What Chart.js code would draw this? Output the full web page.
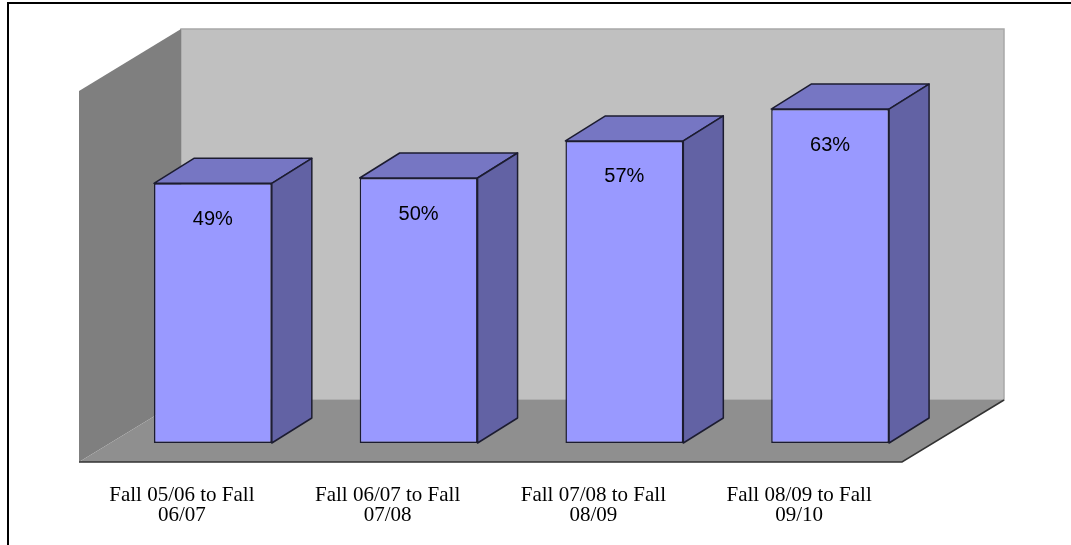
<!DOCTYPE html>
<html>
<head>
<meta charset="utf-8">
<script src="https://cdn.jsdelivr.net/npm/chart.js@4.4.0/dist/chart.umd.min.js"></script>
<style>
  body { margin: 0; background: #fff; }
</style>
</head>
<body>
<canvas id="myChart" width="1071" height="545"></canvas>
<script>
var categories = [
  ["Fall 05/06 to Fall", "06/07"],
  ["Fall 06/07 to Fall", "07/08"],
  ["Fall 07/08 to Fall", "08/09"],
  ["Fall 08/09 to Fall", "09/10"]
];
var rates = [49, 50, 57, 63];
var rateLabels = ["49%", "50%", "57%", "63%"];

// 3d look: walls, floor, bar tops and sides
var depthBox = {
  id: "depthBox",
  beforeDraw: function (chart) {
    var c = chart.ctx;
    c.save();
    c.strokeStyle = "#000";
    c.lineWidth = 2;
    c.beginPath();
    c.moveTo(8, 546);
    c.lineTo(8, 3);
    c.lineTo(1072, 3);
    c.stroke();
    c.restore();
  },
  beforeDatasetsDraw: function (chart) {
    var c = chart.ctx;
    var a = chart.chartArea;
    var y = chart.scales.y;
    var top = y.getPixelForValue(70);
    var base = y.getPixelForValue(0);
    var bx = 71, by = -43; // back plane
    var fx = -31, fy = 19; // front plane
    c.save();
    // back wall
    c.fillStyle = "#c0c0c0";
    c.fillRect(a.left + bx, top + by, a.right - a.left, base - top);
    c.strokeStyle = "#a8a8a8";
    c.lineWidth = 1.5;
    c.strokeRect(a.left + bx, top + by, a.right - a.left, base - top);
    // left wall
    c.fillStyle = "#7f7f7f";
    c.beginPath();
    c.moveTo(a.left + bx, top + by);
    c.lineTo(a.left + bx, base + by);
    c.lineTo(a.left + fx, base + fy);
    c.lineTo(a.left + fx, top + fy);
    c.closePath();
    c.fill();
    // floor
    c.fillStyle = "#8f8f8f";
    c.beginPath();
    c.moveTo(a.left + fx, base + fy);
    c.lineTo(a.right + fx, base + fy);
    c.lineTo(a.right + bx, base + by);
    c.lineTo(a.left + bx, base + by);
    c.closePath();
    c.fill();
    c.strokeStyle = "#333";
    c.lineWidth = 1.5;
    c.beginPath();
    c.moveTo(a.left + fx, base + fy);
    c.lineTo(a.right + fx, base + fy);
    c.lineTo(a.right + bx, base + by);
    c.stroke();
    c.restore();
  },
  afterDatasetsDraw: function (chart) {
    var c = chart.ctx;
    var meta = chart.getDatasetMeta(0);
    var dx = 40, dy = -25;
    c.save();
    c.lineWidth = 1.5;
    c.strokeStyle = "#1c1c30";
    c.lineJoin = "round";
    meta.data.forEach(function (bar, i) {
      var l = bar.x - bar.width / 2;
      var r = bar.x + bar.width / 2;
      var t = bar.y;
      var b = bar.base;
      // top face
      c.fillStyle = "#7676c3";
      c.beginPath();
      c.moveTo(l, t);
      c.lineTo(l + dx, t + dy);
      c.lineTo(r + dx, t + dy);
      c.lineTo(r, t);
      c.closePath();
      c.fill();
      c.stroke();
      // side face
      c.fillStyle = "#6262a4";
      c.beginPath();
      c.moveTo(r, t);
      c.lineTo(r + dx, t + dy);
      c.lineTo(r + dx, b + dy);
      c.lineTo(r, b);
      c.closePath();
      c.fill();
      c.stroke();
      // value label
      c.fillStyle = "#000";
      c.font = "20px 'Liberation Sans', Arial, sans-serif";
      c.textAlign = "center";
      c.textBaseline = "middle";
      c.fillText(rateLabels[i], bar.x, t + 36);
    });
    c.restore();
  }
};

document.addEventListener("DOMContentLoaded", function () {
  var ctx = document.getElementById("myChart").getContext("2d");
  var myChart = new Chart(ctx, {
    type: "bar",
    data: {
      labels: categories,
      datasets: [
        {
          data: rates,
          backgroundColor: "#9999ff",
          borderColor: "#1c1c30",
          borderWidth: 1.5,
          borderSkipped: false,
          categoryPercentage: 1,
          barPercentage: 0.573
        }
      ]
    },
    options: {
      responsive: false,
      animation: false,
      layout: {
        padding: { left: 110, right: 138, top: 72, bottom: 0 }
      },
      plugins: {
        legend: { display: false },
        tooltip: { enabled: false }
      },
      scales: {
        x: {
          grid: { display: false, drawTicks: false },
          border: { display: false },
          ticks: {
            color: "#000",
            padding: 42,
            labelOffset: -31,
            maxRotation: 0,
            autoSkip: false,
            font: { family: "'Liberation Serif', 'Times New Roman', serif", size: 21, lineHeight: 0.97 }
          },
          afterFit: function (scale) {
            scale.height = 102;
          }
        },
        y: {
          display: false,
          min: 0,
          max: 70
        }
      }
    },
    plugins: [depthBox]
  });
});
</script>
</body>
</html>
